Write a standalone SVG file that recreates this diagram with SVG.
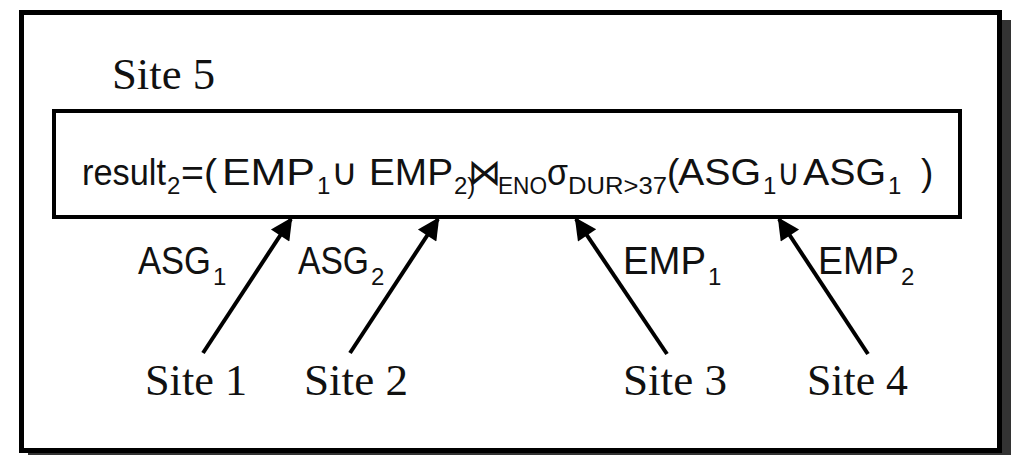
<svg xmlns="http://www.w3.org/2000/svg" width="1011" height="455" viewBox="0 0 1011 455">
<defs>
<style>
.f{font-family:"Liberation Sans",Arial,"DejaVu Sans",sans-serif;fill:#111}
.m{font-size:37px}
.s{font-size:24px}
.l{font-size:39px}
.site{font-family:"Liberation Serif","Times New Roman",serif;font-size:44px;fill:#111}
.sym{font-family:"DejaVu Sans",sans-serif}
.arr{stroke:#000;stroke-width:4;fill:none;marker-end:url(#ah)}
</style>
<marker id="ah" viewBox="0 0 10 10" refX="9" refY="5" markerWidth="6.5" markerHeight="5.5" markerUnits="strokeWidth" orient="auto">
<path d="M0,0 L10,5 L0,10 z" fill="#000"/>
</marker>
</defs>
<g id="frame">
<rect x="28" y="20" width="983" height="440" fill="#333"/>
<rect x="21.5" y="12.5" width="978" height="438" fill="#fff" stroke="#000" stroke-width="5"/>
</g>
<g id="site5">
<text class="site" x="112" y="89" textLength="103" lengthAdjust="spacingAndGlyphs">Site 5</text>
<rect x="54" y="111" width="906" height="106" fill="#fff" stroke="#000" stroke-width="4"/>
<text class="f m"><tspan x="82" y="185" textLength="84" lengthAdjust="spacingAndGlyphs">result</tspan><tspan class="s" x="167" y="194">2</tspan><tspan x="181" y="185" textLength="36" lengthAdjust="spacingAndGlyphs">=(</tspan><tspan x="222" y="185" textLength="93" lengthAdjust="spacingAndGlyphs">EMP</tspan><tspan class="s" x="317" y="194">1</tspan><tspan class="sym" x="331" y="185" textLength="27" lengthAdjust="spacingAndGlyphs">∪</tspan><tspan x="369" y="185" textLength="84" lengthAdjust="spacingAndGlyphs">EMP</tspan><tspan class="s" x="454" y="194">2)</tspan><tspan class="sym" x="468" y="185" textLength="33" lengthAdjust="spacingAndGlyphs">⋈</tspan><tspan class="s" x="498" y="194" textLength="49" lengthAdjust="spacingAndGlyphs">ENO</tspan><tspan x="547" y="185" textLength="21" lengthAdjust="spacingAndGlyphs">σ</tspan><tspan class="s" x="568" y="194" textLength="99" lengthAdjust="spacingAndGlyphs">DUR&gt;37</tspan><tspan x="667" y="185">(</tspan><tspan x="678" y="185" textLength="83" lengthAdjust="spacingAndGlyphs">ASG</tspan><tspan class="s" x="763" y="194">1</tspan><tspan class="sym" x="777" y="185" textLength="23" lengthAdjust="spacingAndGlyphs">∪</tspan><tspan x="803" y="185" textLength="83" lengthAdjust="spacingAndGlyphs">ASG</tspan><tspan class="s" x="888" y="194">1</tspan><tspan x="921" y="185">)</tspan></text>
</g>
<g id="site1"><text class="site" x="145" y="395" textLength="102" lengthAdjust="spacingAndGlyphs">Site 1</text></g>
<g id="site2"><text class="site" x="304" y="395" textLength="104" lengthAdjust="spacingAndGlyphs">Site 2</text></g>
<g id="site3"><text class="site" x="623" y="395" textLength="104" lengthAdjust="spacingAndGlyphs">Site 3</text></g>
<g id="site4"><text class="site" x="807" y="395" textLength="101" lengthAdjust="spacingAndGlyphs">Site 4</text></g>
<g id="connectors">
<line class="arr" x1="203" y1="353" x2="291" y2="219"/>
<line class="arr" x1="350" y1="353" x2="438" y2="219"/>
<line class="arr" x1="667" y1="354" x2="576" y2="219"/>
<line class="arr" x1="868" y1="354" x2="779" y2="219"/>
</g>
<g id="labels" class="f">
<text class="l"><tspan x="138" y="274" textLength="73" lengthAdjust="spacingAndGlyphs">ASG</tspan><tspan class="s" x="213" y="285">1</tspan></text>
<text class="l"><tspan x="298" y="274" textLength="71" lengthAdjust="spacingAndGlyphs">ASG</tspan><tspan class="s" x="371" y="285">2</tspan></text>
<text class="l"><tspan x="623" y="274" textLength="83" lengthAdjust="spacingAndGlyphs">EMP</tspan><tspan class="s" x="708" y="285">1</tspan></text>
<text class="l"><tspan x="818" y="274" textLength="81" lengthAdjust="spacingAndGlyphs">EMP</tspan><tspan class="s" x="901" y="285">2</tspan></text>
</g>
</svg>
